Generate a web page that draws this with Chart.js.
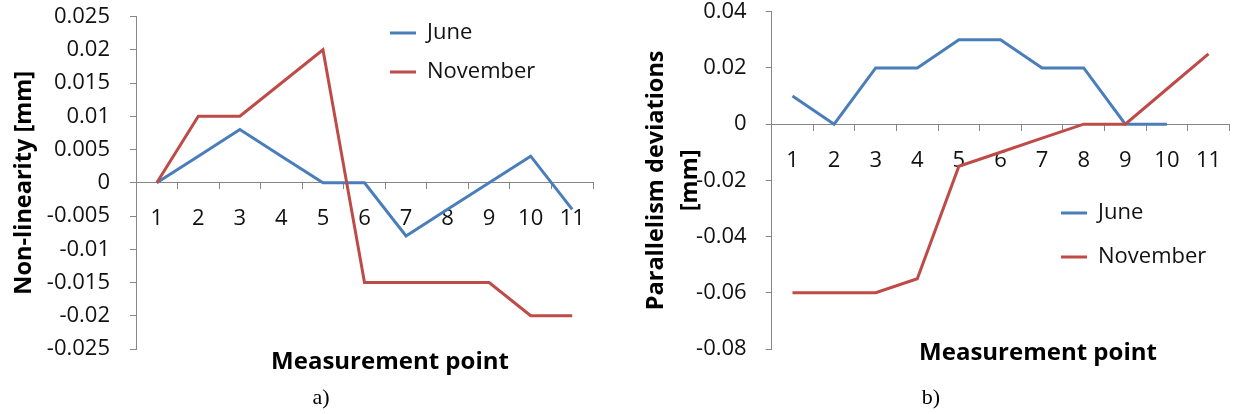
<!DOCTYPE html>
<html>
<head>
<meta charset="utf-8">
<script src="https://cdn.jsdelivr.net/npm/chart.js@4/dist/chart.umd.min.js"></script>
<style>
  body { margin: 0; background: #fff; }
  .panel { position: absolute; top: 0; }
</style>
</head>
<body>
<div class="panel" style="left:0"><canvas id="chart_a" width="620" height="414"></canvas></div>
<div class="panel" style="left:620px"><canvas id="chart_b" width="621" height="414"></canvas></div>
<script>
// measurement points 1..11
const points = ["1", "2", "3", "4", "5", "6", "7", "8", "9", "10", "11"];

// a) non-linearity [mm]
const juneA = [0, 0.004, 0.008, 0.004, 0, 0, -0.008, -0.004, 0, 0.004, -0.004];
const novA = [0, 0.01, 0.01, 0.015, 0.02, -0.015, -0.015, -0.015, -0.015, -0.02, -0.02];
const yTicksA = [-0.025, -0.02, -0.015, -0.01, -0.005, 0, 0.005, 0.01, 0.015, 0.02, 0.025];

// b) parallelism deviations [mm] (June has no value at point 11)
const juneB = [0.01, 0, 0.02, 0.02, 0.03, 0.03, 0.02, 0.02, 0, 0, null];
const novB = [-0.06, -0.06, -0.06, -0.055, -0.015, -0.01, -0.005, 0, 0, 0.0125, 0.025];
const yTicksB = [-0.08, -0.06, -0.04, -0.02, 0, 0.02, 0.04];

const seriesNames = ["June", "November"];

const BLUE = "#4A7EBB";
const RED = "#BE4B48";
const AXIS = "#868686";
const FONT = "'Open Sans', sans-serif";

// moves the legend to a fixed spot inside the plot
const legendSpot = {
    id: "legendSpot",
    afterLayout: function (chart, args, opts) {
        let lg = chart.legend;
        lg.left = opts.left;
        lg.top = opts.top;
        lg.right = opts.left + lg.width;
        lg.bottom = opts.top + lg.height;
    }
};

// x axis title and the a)/b) caption
const captionText = {
    id: "captionText",
    afterDraw: function (chart, args, opts) {
        let ctx = chart.ctx;
        ctx.save();
        ctx.textAlign = "center";
        ctx.textBaseline = "middle";
        ctx.fillStyle = "#000";
        opts.items.forEach(function (t) {
            ctx.font = t.font;
            ctx.fillText(t.text, t.x, t.y);
        });
        ctx.restore();
    }
};

function makeChart(id, cfg) {
    return new Chart(document.getElementById(id), {
        type: "line",
        data: {
            labels: points,
            datasets: [{
                label: seriesNames[0],
                data: cfg.june,
                borderColor: BLUE,
                backgroundColor: BLUE,
                borderWidth: 3,
                pointRadius: 0,
                order: 1
            }, {
                label: seriesNames[1],
                data: cfg.nov,
                borderColor: RED,
                backgroundColor: RED,
                borderWidth: 3,
                pointRadius: 0,
                order: 0
            }]
        },
        options: {
            responsive: false,
            animation: false,
            layout: {
                padding: { left: 0, top: cfg.top, right: cfg.right, bottom: 65 }
            },
            scales: {
                y: {
                    min: cfg.yTicks[0],
                    max: cfg.yTicks[cfg.yTicks.length - 1],
                    afterBuildTicks: function (s) {
                        s.ticks = cfg.yTicks.map(function (v) { return { value: v }; });
                    },
                    afterFit: function (s) {
                        s.width = cfg.yWidth;
                        // label padding should not push the plot down
                        s.paddingTop = 0;
                        s.paddingBottom = 0;
                    },
                    ticks: {
                        font: { family: FONT, size: 22 },
                        color: "#111",
                        padding: cfg.yPad,
                        callback: function (v) { return String(v); }
                    },
                    grid: { drawOnChartArea: false, tickLength: 6, color: AXIS },
                    border: { color: AXIS },
                    title: {
                        display: true,
                        text: cfg.yTitle,
                        color: "#000",
                        font: { family: FONT, size: 23.5, weight: "bold", lineHeight: cfg.titleLH },
                        padding: { top: cfg.titlePad, bottom: 0 }
                    }
                },
                x: {
                    type: "category",
                    position: { y: 0 },
                    offset: true,
                    grid: { offset: true, drawOnChartArea: false, tickLength: 6, color: AXIS },
                    border: { color: AXIS },
                    ticks: {
                        font: { family: FONT, size: 22 },
                        color: "#111",
                        padding: 17,
                        autoSkip: false,
                        maxRotation: 0
                    }
                }
            },
            plugins: {
                legend: {
                    position: "chartArea",
                    align: "start",
                    labels: {
                        font: { family: FONT, size: 22 },
                        color: "#111",
                        boxWidth: 26,
                        boxHeight: 0,
                        padding: cfg.legendGap,
                        sort: function (a, b) { return a.datasetIndex - b.datasetIndex; }
                    }
                },
                tooltip: { enabled: false },
                legendSpot: cfg.legendAt,
                captionText: { items: cfg.texts }
            }
        },
        plugins: [legendSpot, captionText]
    });
}

makeChart("chart_a", {
    june: juneA,
    nov: novA,
    yTicks: yTicksA,
    yTitle: "Non-linearity [mm]",
    top: 16.5,
    right: 27,
    yWidth: 136,
    yPad: 20,
    titleLH: 1.2,
    titlePad: 10,
    legendGap: 17,
    legendAt: { left: 373, top: 5 },
    texts: [
        { text: "Measurement point", x: 390, y: 362, font: "bold 24px " + FONT },
        { text: "a)", x: 321, y: 398, font: "22px 'Liberation Serif', serif" }
    ]
});

makeChart("chart_b", {
    june: juneB,
    nov: novB,
    yTicks: yTicksB,
    yTitle: ["Parallelism deviations", "[mm]"],
    top: 11.7,
    right: 11.7,
    yWidth: 151.7,
    yPad: 19,
    titleLH: 1.45,
    titlePad: 19,
    legendGap: 22,
    legendAt: { left: 419, top: 180 },
    texts: [
        { text: "Measurement point", x: 418, y: 353, font: "bold 24px " + FONT },
        { text: "b)", x: 311, y: 398, font: "22px 'Liberation Serif', serif" }
    ]
});
</script>
</body>
</html>
